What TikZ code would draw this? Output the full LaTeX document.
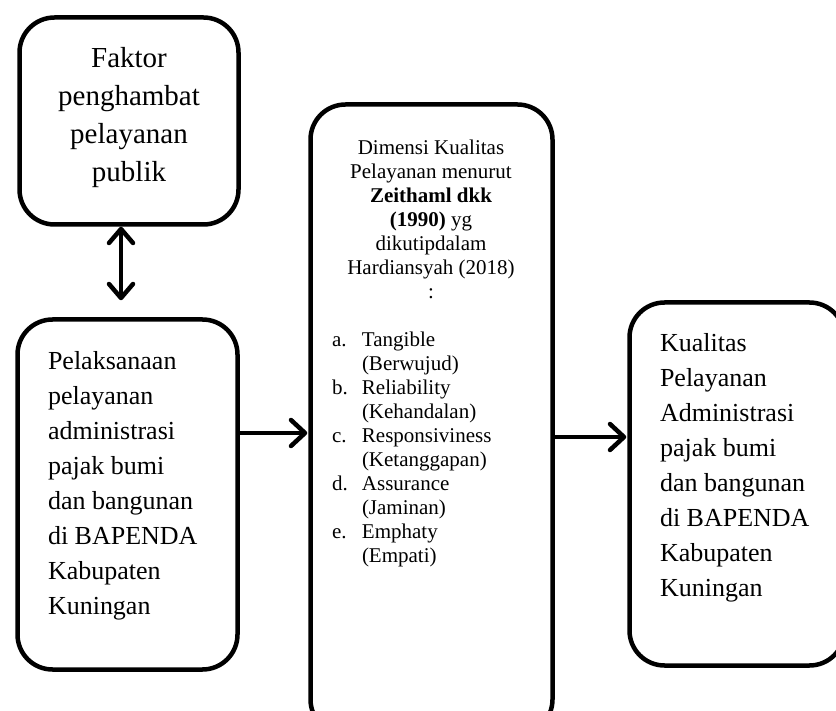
\documentclass[tikz,border=0pt]{standalone}
\usepackage{fontspec}
\setmainfont{Liberation Serif}
\usetikzlibrary{arrows.meta}
\begin{document}
\begin{tikzpicture}[x=1pt,y=-1pt,
  box/.style={draw=black,line width=4.5pt,rounded corners=35pt,inner sep=0pt,fill=white},
  txt/.style={inner sep=0pt,outer sep=0pt},
  arr/.style={line width=4.5pt,-{Straight Barb[length=14pt,width=26pt,round]},shorten >=1pt},
  darr/.style={line width=4.5pt,{Straight Barb[length=14pt,width=24pt,round]}-{Straight Barb[length=14pt,width=24pt,round]}}
]
\useasboundingbox (0,0) rectangle (836,711);
\clip (0,0) rectangle (836,711);
\fill[white] (0,0) rectangle (836,711);

% boxes
\node[box,minimum width=219pt,minimum height=207pt] (f) at (129,121) {};
\node[box,minimum width=220pt,minimum height=350pt] (p) at (127.5,494.5) {};
\node[box,minimum width=242pt,minimum height=630pt] (d) at (431.5,419.5) {};
\node[box,minimum width=215pt,minimum height=363pt] (k) at (737,484) {};

% texts
\node[txt,anchor=north,align=center,font=\fontsize{29}{38}\selectfont] (ft) at (129,47)
  {Faktor\\penghambat\\pelayanan\\publik};
\node[txt,anchor=north west,align=left,font=\fontsize{26}{35}\selectfont] (pt) at (48,351)
  {Pelaksanaan\\pelayanan\\administrasi\\pajak bumi\\dan bangunan\\di BAPENDA\\Kabupaten\\Kuningan};
\node[txt,anchor=north west,align=left,font=\fontsize{26}{35}\selectfont] (kt) at (660,333)
  {Kualitas\\Pelayanan\\Administrasi\\pajak bumi\\dan bangunan\\di BAPENDA\\Kabupaten\\Kuningan};
\node[txt,anchor=north,align=center,font=\fontsize{21}{24}\selectfont] (dt) at (431,140)
  {Dimensi Kualitas\\Pelayanan menurut\\\textbf{Zeithaml dkk}\\\textbf{(1990)} yg\\dikutipdalam\\Hardiansyah (2018)\\:};
\node[txt,anchor=north west,font=\fontsize{21}{24}\selectfont] (dl) at (332,330)
  {\begin{tabular}{@{}p{30pt}@{}l@{}}
   a. & Tangible\\ & (Berwujud)\\
   b. & Reliability\\ & (Kehandalan)\\
   c. & Responsiviness\\ & (Ketanggapan)\\
   d. & Assurance\\ & (Jaminan)\\
   e. & Emphaty\\ & (Empati)
   \end{tabular}};

% connectors
\coordinate (a1) at (0,433);
\coordinate (a2) at (0,437);
\coordinate (a3) at (121,0);
\draw[darr] (f.south -| a3) -- ([yshift=17pt]p.north -| a3);
\draw[arr] (p.east |- a1) -- (d.west |- a1);
\draw[arr] (d.east |- a2) -- (k.west |- a2);
\end{tikzpicture}
\end{document}
